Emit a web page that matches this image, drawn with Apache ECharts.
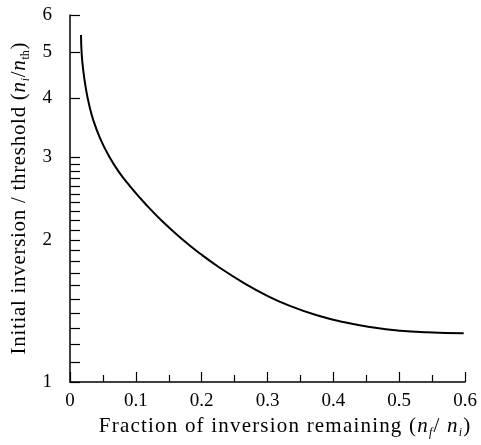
<!DOCTYPE html>
<html>
<head>
<meta charset="utf-8">
<script src="https://cdn.jsdelivr.net/npm/echarts@6/dist/echarts.min.js"></script>
<style>
  html, body { margin:0; padding:0; background:#fff; }
  #main { width:481px; height:445px; }
</style>
</head>
<body>
<div id="main"></div>
<script>
// data
var fraction = [0.0167, 0.0178, 0.0202, 0.0239, 0.0289, 0.0354, 0.0456, 0.0582, 0.0734, 0.0912,
                0.114, 0.139, 0.170, 0.198, 0.228, 0.263, 0.299, 0.334, 0.375, 0.415,
                0.461, 0.502, 0.542, 0.598];
var ratio = [5.44, 4.95, 4.57, 4.21, 3.88, 3.59, 3.29, 3.03, 2.80, 2.60,
             2.39, 2.20, 2.01, 1.87, 1.745, 1.625, 1.525, 1.45, 1.385, 1.34,
             1.305, 1.285, 1.275, 1.268];

var yLabels = [1, 2, 3, 4, 5, 6];
var yTicks = [1, 1.1, 1.2, 1.3, 1.4, 1.5, 1.6, 1.7, 1.8, 1.9,
              2, 2.1, 2.2, 2.3, 2.4, 2.5, 2.6, 2.7, 2.8, 2.9,
              3, 4, 5, 6];

var font = 'Liberation Serif';

var pts = [];
for (var i = 0; i < fraction.length; i++) {
    pts.push([fraction[i], ratio[i]]);
}

// one rich token per character, to get the wide letter spacing of the titles
function spaced(text, style){
    var out = '';
    for (var k = 0; k < text.length; k++) {
        out += '{' + style + '|' + text.charAt(k) + '}';
    }
    return out;
}

function richStyles(gap){
    return {
        c: { fontFamily: font, fontSize: 21, color: '#000', lineHeight: 24, verticalAlign: 'middle', padding: [0, gap, 0, gap] },
        i: { fontFamily: font, fontSize: 21, color: '#000', fontStyle: 'italic', lineHeight: 24, verticalAlign: 'middle', padding: [0, gap, 0, gap] },
        s: { fontFamily: font, fontSize: 12, color: '#000', lineHeight: 12, verticalAlign: 'bottom', padding: [0, gap, 0, gap] },
        si: { fontFamily: font, fontSize: 12, color: '#000', fontStyle: 'italic', lineHeight: 12, verticalAlign: 'bottom', padding: [0, gap, 0, gap] }
    };
}

var chart = echarts.init(document.getElementById('main'));

var xName = spaced('Fraction of inversion remaining (', 'c') + '{i|n}{si|f}' + spaced('/ ', 'c') + '{i|n}{si|i}{c|)}';
var yName = spaced('Initial inversion / threshold (', 'c') + '{i|n}{si|i}{c|/}{i|n}{s|th}{c|)}';

var option = {
    animation: false,
    backgroundColor: '#fff',
    grid: { left: 70, right: 16, top: 15, bottom: 63 },
    xAxis: {
        type: 'value',
        min: 0,
        max: 0.6,
        interval: 0.1,
        name: xName,
        nameLocation: 'middle',
        nameGap: 29,
        nameTextStyle: { rich: richStyles(0.6), padding: [0, 0, 0, 34] },
        axisLine: { lineStyle: { color: '#000', width: 1.5 } },
        axisTick: { inside: true, length: 10, lineStyle: { color: '#000', width: 1.2 } },
        minorTick: { show: true, splitNumber: 2, length: 7, lineStyle: { color: '#000', width: 1.2 } },
        axisLabel: { fontFamily: font, fontSize: 19, color: '#000', margin: 10 },
        splitLine: { show: false }
    },
    yAxis: {
        type: 'log',
        logBase: 10,
        min: 1,
        max: 6,
        name: yName,
        nameLocation: 'middle',
        nameGap: 38,
        nameTextStyle: { rich: richStyles(0.35) },
        axisLine: { lineStyle: { color: '#000', width: 1.5 } },
        axisTick: { inside: true, length: 10, customValues: yTicks, lineStyle: { color: '#000', width: 1.2 } },
        axisLabel: { fontFamily: font, fontSize: 19, color: '#000', margin: 18, customValues: yLabels },
        splitLine: { show: false }
    },
    series: [{
        type: 'line',
        data: pts,
        smooth: true,
        showSymbol: false,
        lineStyle: { color: '#000', width: 2 }
    }]
};

chart.setOption(option);
</script>
</body>
</html>
